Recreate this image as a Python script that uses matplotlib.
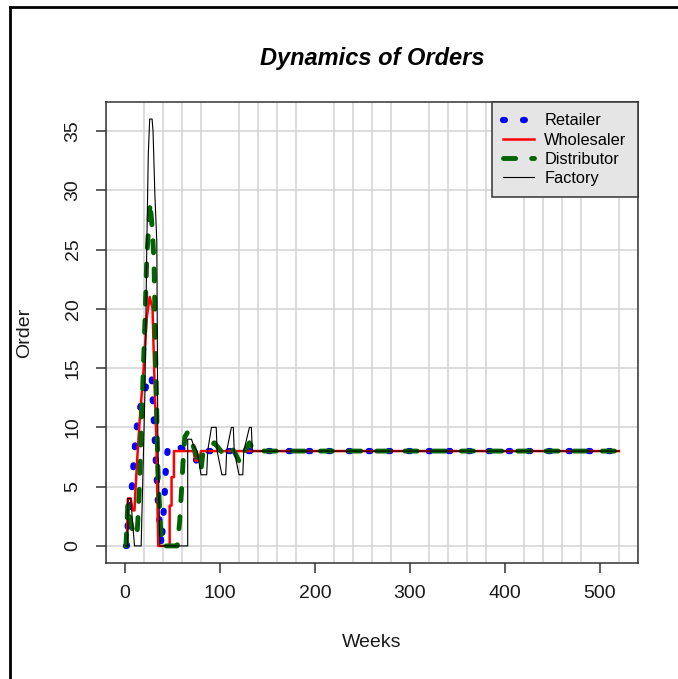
#!/usr/bin/env python3
"""
Beer game simulation - weekly orders placed by each stage of the chain.
"""

import matplotlib
matplotlib.use('Agg')
import matplotlib.pyplot as plt
from matplotlib.lines import Line2D
import numpy as np

plt.rcParams['font.family'] = ['Liberation Sans', 'DejaVu Sans']

# Weekly orders (week, order) - vertices of each line
RETAILER_WEEKS = [1, 2, 3, 5, 7, 10, 12, 14, 17, 20, 24, 27, 28, 29, 31, 33, 35,
                  37, 38.5, 40, 42, 43, 45, 50, 58, 66, 72, 75, 78, 82, 520]
RETAILER_ORDERS = [0, 0, 1.9, 3.5, 4.7, 8, 9.7, 11, 12, 12.7, 14.2, 14.4, 14.4,
                   12.7, 9.5, 6.4, 3.2, 1.5, 0, 2, 4.7, 6.6, 8.2, 8.6, 8.3, 8,
                   7.6, 7.2, 8, 8, 8]

WHOLESALER_WEEKS = [1, 2, 3, 6, 8, 10, 11, 13, 15, 16, 19, 23, 26, 29, 31, 33,
                    35, 47, 47, 49, 49, 51.5, 51.5, 72, 74, 78, 80, 520]
WHOLESALER_ORDERS = [0, 0, 4, 4, 3, 3, 4.7, 7.5, 10, 11.2, 14.2, 19.3, 21, 20,
                     14, 9, 0, 0, 3.4, 3.4, 5.8, 5.8, 8, 8, 7.2, 7.2, 8, 8]

DISTRIBUTOR_WEEKS = [1, 3, 5, 8, 12.5, 13.5, 15, 17, 19, 21, 23, 26.5, 29, 30.5,
                     33, 34.6, 36.7, 38.5, 55, 57.5, 59.5, 61, 63, 66, 71, 76,
                     80, 82, 88, 94, 99, 103, 108, 112, 116, 121, 126, 131, 136,
                     520]
DISTRIBUTOR_ORDERS = [0, 3.6, 2.4, 1.3, 0.8, 2.1, 4.7, 9.5, 14.2, 19, 24.4, 29,
                      26.4, 24, 13, 6.6, 2.7, 0, 0, 2, 4.7, 7, 9.2, 9.6, 8.6,
                      7.5, 6.4, 7.8, 8.2, 8.7, 8.2, 7.8, 8, 8.3, 7.8, 7, 8, 8.7,
                      8, 8]

FACTORY_WEEKS = [1, 3, 3, 6, 10, 17, 21, 23, 24.5, 26, 28.5, 29.5, 31.5, 33.5,
                 34.5, 36.7, 66, 66, 70, 72, 76, 80, 86, 87, 91, 96, 97, 102,
                 106, 107, 112, 114, 115, 120, 124, 125, 131, 133, 134, 520]
FACTORY_ORDERS = [0, 0, 4, 4, 0, 0, 13, 25.6, 33, 36, 36, 35, 29.5, 25.6, 9.5,
                  0, 0, 9, 9, 8.5, 8, 6, 6, 8, 10, 10, 8, 6, 6, 8, 10, 10, 8,
                  6, 6, 8, 10, 10, 8, 8]

X_TICKS = [0, 100, 200, 300, 400, 500]
Y_TICKS = [0, 5, 10, 15, 20, 25, 30, 35]

W, H = 678, 679


def main() -> None:
    fig = plt.figure(figsize=(W / 100, H / 100), dpi=100)
    fig.patch.set_facecolor('white')

    # plot region in pixels: x 106..638, y 102..563
    ax = fig.add_axes([106 / W, 1 - 563 / H, 532 / W, 461 / H])
    ax.set_xlim(-20, 540)
    ax.set_ylim(-1.44, 37.44)

    # light grid, every 20 weeks and every 5 orders
    ax.set_xticks(np.arange(-20, 541, 20), minor=True)
    ax.grid(which='minor', axis='x', color='#d3d3d3', lw=1.1)
    ax.grid(which='major', axis='y', color='#d3d3d3', lw=1.1)
    ax.set_axisbelow(True)
    ax.tick_params(which='minor', length=0)

    ax.plot(RETAILER_WEEKS, RETAILER_ORDERS, color='blue', lw=4.5,
            dashes=(0.3, 2.9), dash_capstyle='round', label='Retailer')
    ax.plot(WHOLESALER_WEEKS, WHOLESALER_ORDERS, color='red', lw=1.8,
            label='Wholesaler')
    ax.plot(DISTRIBUTOR_WEEKS, DISTRIBUTOR_ORDERS, color='#006400', lw=3.5,
            dashes=(2.5, 3.3), dash_capstyle='round', label='Distributor')
    ax.plot(FACTORY_WEEKS, FACTORY_ORDERS, color='black', lw=0.8,
            label='Factory')

    ax.set_xticks(X_TICKS)
    ax.set_yticks(Y_TICKS)
    ax.tick_params(axis='both', length=7.5, width=1.1, color='#333333',
                   labelsize=14, labelcolor='#1a1a1a')
    ax.tick_params(axis='x', pad=8)
    ax.tick_params(axis='y', pad=10, labelrotation=90)
    for lbl in ax.get_yticklabels():
        lbl.set_va('center')
    for sp in ax.spines.values():
        sp.set_color('#333333')
        sp.set_linewidth(1.1)

    ax.set_xlabel('Weeks', fontsize=14, color='#1a1a1a')
    ax.xaxis.set_label_coords(0.5, -0.155)
    ax.set_ylabel('Order', fontsize=14, color='#1a1a1a')
    ax.yaxis.set_label_coords(-0.137, 0.5)

    fig.text(372 / W, 1 - 65 / H, 'Dynamics of Orders', ha='center',
             va='baseline', fontsize=17, fontweight='bold', fontstyle='italic')

    leg = ax.legend(loc='upper right', borderaxespad=0, fancybox=False,
                    fontsize=11.8, handlelength=1.9, handletextpad=0.6,
                    borderpad=0.7, labelspacing=0.25, framealpha=1,
                    facecolor='#e5e5e5', edgecolor='#333333')
    leg.get_frame().set_linewidth(1.1)

    # outer frame of the original device (left and top edges)
    fig.add_artist(Line2D([9.5 / W, 9.5 / W], [0, 1 - 6.5 / H],
                          transform=fig.transFigure, color='black', lw=2))
    fig.add_artist(Line2D([9.5 / W, 1], [1 - 6.5 / H, 1 - 6.5 / H],
                          transform=fig.transFigure, color='black', lw=2))

    fig.savefig('out.png', dpi=100)


if __name__ == "__main__":
    main()
